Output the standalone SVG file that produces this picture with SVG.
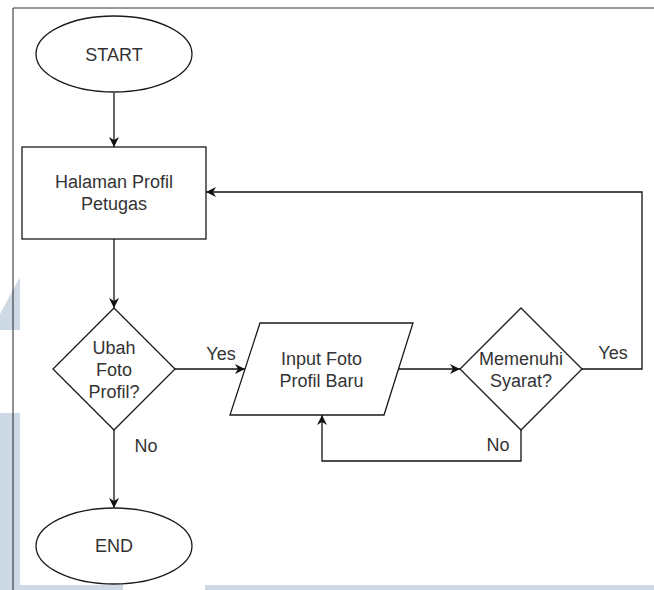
<svg xmlns="http://www.w3.org/2000/svg" width="654" height="590" viewBox="0 0 654 590">
<style>
.wm{fill:#cdd9e4;stroke:none}
.sh{fill:#fff;stroke:#1a1a1a;stroke-width:1.3}
.ln{fill:none;stroke:#111;stroke-width:1.3}
text{font-family:"Liberation Sans",Arial,sans-serif;font-size:18px;fill:#333;text-anchor:middle}
</style>
<defs>
<marker id="ah" viewBox="0 0 10 10" refX="10" refY="5" markerWidth="10" markerHeight="10" markerUnits="userSpaceOnUse" orient="auto">
<path d="M0,0 L10,5 L0,10 L3,5 Z" fill="#111"/>
</marker>
</defs>
<rect width="654" height="590" fill="#fff"/>
<g id="watermark">
<polygon class="wm" points="20,277 20,330 0,330 0,314"/>
<rect class="wm" x="0" y="413" width="20" height="177"/>
<rect class="wm" x="20" y="585" width="103" height="5"/>
<rect class="wm" x="205" y="585" width="449" height="5"/>
</g>
<g id="frame">
<line x1="13" y1="8" x2="654" y2="8" stroke="#777" stroke-width="1.5"/>
<line x1="13" y1="8" x2="13" y2="590" stroke="#222" stroke-width="1"/>
</g>
<g id="connectors">
<line class="ln" x1="114" y1="93" x2="114" y2="147" marker-end="url(#ah)"/>
<line class="ln" x1="114" y1="239" x2="114" y2="308" marker-end="url(#ah)"/>
<line class="ln" x1="175" y1="369" x2="245" y2="369" marker-end="url(#ah)"/>
<line class="ln" x1="398" y1="369" x2="460" y2="369" marker-end="url(#ah)"/>
<polyline class="ln" points="582,369 642,369 642,192 206,192" marker-end="url(#ah)"/>
<polyline class="ln" points="521,429 521,461 322,461 322,415" marker-end="url(#ah)"/>
<line class="ln" x1="114" y1="430" x2="114" y2="508" marker-end="url(#ah)"/>
<text x="221" y="360">Yes</text>
<text x="613" y="359">Yes</text>
<text x="498" y="451">No</text>
<text x="146" y="452">No</text>
</g>
<g id="start">
<ellipse class="sh" cx="114" cy="54" rx="78" ry="38"/>
<text x="114" y="60.5">START</text>
</g>
<g id="halaman">
<rect class="sh" x="22" y="147" width="184" height="92"/>
<text x="114" y="188">Halaman Profil</text>
<text x="114" y="210">Petugas</text>
</g>
<g id="ubah">
<polygon class="sh" points="114,308 175,369 114,430 53,369"/>
<text x="114" y="353.5">Ubah</text>
<text x="114" y="375.5">Foto</text>
<text x="114" y="397.5">Profil?</text>
</g>
<g id="input">
<polygon class="sh" points="260,323 413,323 384,415 230,415"/>
<text x="321.5" y="365">Input Foto</text>
<text x="321.5" y="387">Profil Baru</text>
</g>
<g id="memenuhi">
<polygon class="sh" points="521,308 582,369 521,430 460,369"/>
<text x="521" y="365">Memenuhi</text>
<text x="521" y="387">Syarat?</text>
</g>
<g id="end">
<ellipse class="sh" cx="114" cy="546" rx="78" ry="38"/>
<text x="114" y="552">END</text>
</g>
</svg>
